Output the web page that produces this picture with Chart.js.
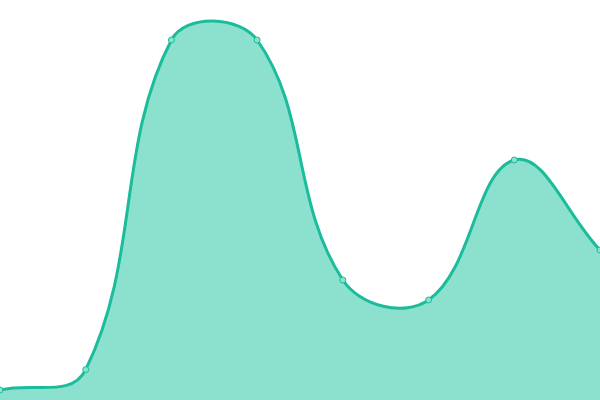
<!DOCTYPE html>
<html>
<head>
<meta charset="utf-8">
<script src="https://cdn.jsdelivr.net/npm/chart.js@4"></script>
<style>
html, body { margin: 0; padding: 0; background: #fff; }
#wrap { width: 600px; height: 400px; }
</style>
</head>
<body>
<div id="wrap"><canvas id="chart"></canvas></div>
<script>
const labels = ["1", "2", "3", "4", "5", "6", "7", "8"];
const values = [2.5, 7.6, 90, 90, 30, 25, 60, 37.5];

new Chart(document.getElementById("chart"), {
  type: "line",
  data: {
    labels: labels,
    datasets: [{
      data: values,
      fill: true,
      tension: 0.4,
      borderColor: "#1abc9c",
      borderWidth: 3,
      backgroundColor: "#8be0ce",
      pointRadius: 3,
      pointBackgroundColor: "#8be0ce",
      pointBorderColor: "#1abc9c",
      pointBorderWidth: 1
    }]
  },
  options: {
    responsive: true,
    maintainAspectRatio: false,
    animation: false,
    layout: { padding: 0, autoPadding: false },
    plugins: { legend: { display: false }, tooltip: { enabled: false } },
    scales: {
      x: { display: false },
      y: { display: false, min: 0, max: 100 }
    }
  }
});
</script>
</body>
</html>
